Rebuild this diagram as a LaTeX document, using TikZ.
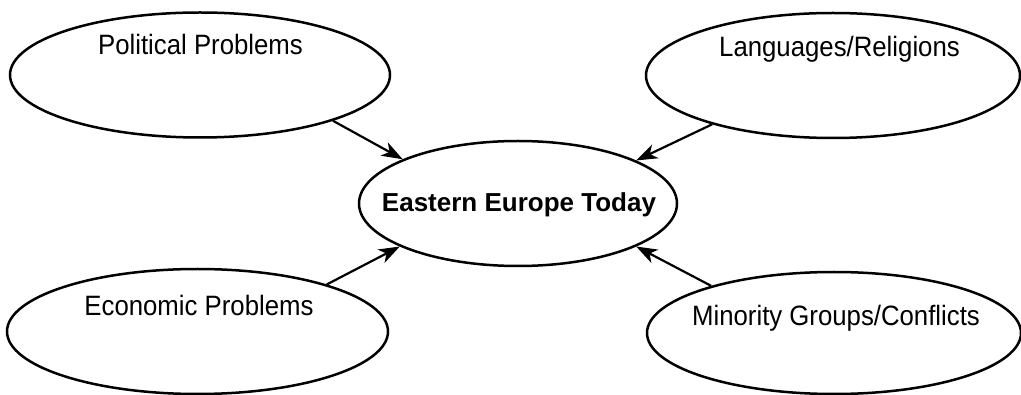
\documentclass[tikz,border=0pt]{standalone}
\usepackage{fontspec}
\setmainfont{Liberation Sans}
\newfontfamily\labfont[FakeStretch=0.92]{Liberation Sans}
\usetikzlibrary{shapes.geometric,arrows.meta}
\begin{document}
\begin{tikzpicture}[x=1pt,y=-1pt,
  bub/.style={draw, ellipse, line width=2.5pt, inner sep=0pt},
  lab/.style={anchor=base, inner sep=0pt, font=\labfont\fontsize{28}{30}\selectfont},
  ctr/.style={anchor=base, inner sep=0pt, font=\bfseries\fontsize{26}{28}\selectfont},
  link/.style={line width=2.2pt, -{Stealth[length=21pt,width=15pt,inset=6pt]}}]
\useasboundingbox (0,0) rectangle (1021,395);

% ellipses
\node[bub, minimum width=380pt, minimum height=125pt] (pp) at (200,75) {};
\node[bub, minimum width=374pt, minimum height=125pt] (lr) at (833,75.5) {};
\node[bub, minimum width=318pt, minimum height=125pt] (c)  at (518,203.5) {};
\node[bub, minimum width=381pt, minimum height=125pt] (ep) at (197.5,331.5) {};
\node[bub, minimum width=374pt, minimum height=122pt] (mg) at (834,333) {};

% texts
\node[lab] (ppt) at (200.5,55) {Political Problems};
\node[lab] (lrt) at (839.5,57) {Languages/Religions};
\node[ctr] (ct)  at (519,212) {Eastern Europe Today};
\node[lab] (ept) at (199,316) {Economic Problems};
\node[lab] (mgt) at (836,326) {Minority Groups/Conflicts};

% connectors
\draw[link] (pp.-19.6) -- (c.159.3);
\draw[link] (lr.-158.9) -- (c.20.7);
\draw[link] (ep.20.3) -- (c.-160.2);
\draw[link] (mg.159.3) -- (c.-20.1);
\end{tikzpicture}
\end{document}
